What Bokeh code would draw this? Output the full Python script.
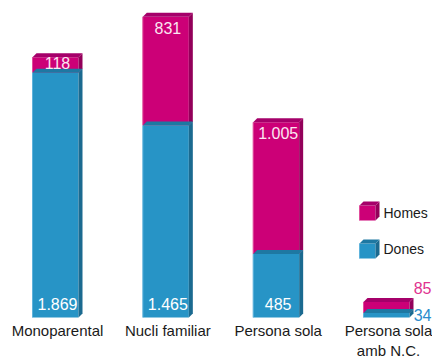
from bokeh.plotting import figure
from bokeh.models import Range1d
from bokeh.core.properties import value
from bokeh.embed import file_html
from bokeh.resources import INLINE

# Households by type, split by sex of the person of reference
categories = ["Monoparental", "Nucli familiar", "Persona sola", "Persona sola\namb N.C."]
dones = [1869, 1465, 485, 34]
homes = [118, 831, 1005, 85]
series_names = ["Homes", "Dones"]

W, H = 432, 358
FONT = "Liberation Sans"

# Canvas geometry: pixels per category step and per household
PX_PER_CAT = 110.33
PX_PER_UNIT = 0.131
X0_PX = 55.0        # pixel centre of the first category
BASE_PX = 317.0     # pixel row of the bar bottoms

x_lo = -X0_PX / PX_PER_CAT
x_hi = x_lo + W / PX_PER_CAT
y_lo = -(H - BASE_PX) / PX_PER_UNIT
y_hi = y_lo + H / PX_PER_UNIT


def px_x(px):
    return x_lo + px / PX_PER_CAT


def px_y(py):
    return y_hi - py / PX_PER_UNIT


HALF = 23 / PX_PER_CAT     # half bar width
DX = 4 / PX_PER_CAT        # depth offset, x
DY = 4 / PX_PER_UNIT       # depth offset, y

BLUE = dict(front="#2794c6", side="#1b6a90", top="#1e78a2", edge="#5fb3dc")
MAG = dict(front="#cc0077", side="#93005a", top="#a5006a", edge="#e04d9c")

p = figure(width=W, height=H, x_range=Range1d(x_lo, x_hi), y_range=Range1d(y_lo, y_hi),
           min_border=0, toolbar_location=None, output_backend="svg",
           background_fill_color="white", border_fill_color="white")
p.axis.visible = False
p.grid.visible = False
p.outline_line_color = None


def draw_box(left, right, bottom, top, col):
    # front face
    p.quad(left=left, right=right, bottom=bottom, top=top,
           fill_color=col["front"], line_color=None)
    # light edge on the front's left side
    p.segment(x0=left, y0=bottom, x1=left, y1=top, line_color=col["edge"], line_width=1)
    # right side face
    p.patch(x=[right, right + DX, right + DX, right],
            y=[bottom, bottom + DY, top + DY, top],
            fill_color=col["side"], line_color=None)
    # top face
    p.patch(x=[left, left + DX, right + DX, right],
            y=[top, top + DY, top + DY, top],
            fill_color=col["top"], line_color=None)


xs = list(range(len(categories)))
totals = [d + h for d, h in zip(dones, homes)]

# upper (Homes) segments first, then the lower (Dones) segments on top of them
for i in xs:
    draw_box(i - HALF, i + HALF, dones[i], totals[i], MAG)
for i in xs:
    draw_box(i - HALF, i + HALF, 0, dones[i], BLUE)


def fmt(v):
    return f"{v:,}".replace(",", ".")


label_kw = dict(text_font=value(FONT), text_font_size="16px", text_align="center",
                text_baseline="middle")

# values written inside the first three bars
inside = xs[:3]
p.text(x=[i + DX / 2 for i in inside], y=[14 / PX_PER_UNIT for _ in inside],
       text=[fmt(dones[i]) for i in inside], text_color="white", **label_kw)
p.text(x=[i + DX / 2 for i in inside],
       y=[totals[i] - min(11, homes[i] * PX_PER_UNIT * 0.4) / PX_PER_UNIT for i in inside],
       text=[fmt(homes[i]) for i in inside], text_color="#fbe6f1", **label_kw)

# the small last bar gets its values to the right
last = xs[3]
side_kw = dict(text_font=value(FONT), text_font_size="16px", text_align="right",
               text_baseline="middle")
p.text(x=[px_x(431)], y=[totals[last] + 14 / PX_PER_UNIT],
       text=[fmt(homes[last])], text_color="#e0338f", **side_kw)
p.text(x=[px_x(431)], y=[dones[last] - 2 / PX_PER_UNIT],
       text=[fmt(dones[last])], text_color="#2a8ccc", **side_kw)

# category labels under the bars
p.text(x=[i + DX / 2 for i in xs], y=[px_y(321)] * len(xs), text=categories,
       text_color="#1a1a1a", text_font=value(FONT), text_font_size="15px",
       text_align="center", text_baseline="top", text_line_height=1.2)

# legend with small cubes
for name, col, top_px, mid_px in zip(series_names, [MAG, BLUE], [205, 243], [212, 248]):
    l, r = px_x(359), px_x(375)
    t, b = px_y(top_px), px_y(top_px + 15)
    draw_box(l, r, b, t, col)
    p.text(x=[px_x(383)], y=[px_y(mid_px)], text=[name], text_color="#1a1a1a",
           text_font=value(FONT), text_font_size="14px", text_align="left",
           text_baseline="middle")

open("out.html", "w").write(file_html(p, INLINE))
